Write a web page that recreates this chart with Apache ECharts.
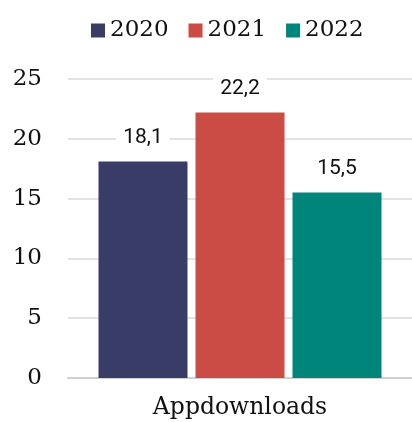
<!DOCTYPE html>
<html>
<head>
<meta charset="utf-8">
<style>
  html, body { margin: 0; padding: 0; background: #ffffff; }
  #chart { width: 412px; height: 422px; }
</style>
<script src="https://cdn.jsdelivr.net/npm/echarts@6/dist/echarts.min.js"></script>
</head>
<body>
<div id="chart"></div>
<script>
const categories = ['Appdownloads'];
const seriesNames = ['2020', '2021', '2022'];
const values2020 = [18.1];
const values2021 = [22.2];
const values2022 = [15.5];
const colors = ['#393c67', '#cb4c44', '#00857b'];
const yTicks = { min: 0, max: 25, interval: 5 };

const serif = 'DejaVu Serif';
const allValues = [values2020, values2021, values2022];

const chart = echarts.init(document.getElementById('chart'), null, { renderer: 'canvas' });
chart.setOption({
  backgroundColor: '#ffffff',
  animation: false,
  legend: {
    top: 14,
    left: 86,
    itemWidth: 14,
    itemHeight: 14,
    itemGap: 20,
    icon: 'rect',
    textStyle: { fontFamily: serif, fontSize: 23, color: '#111111' },
    data: seriesNames
  },
  grid: { left: 68, right: 0, top: 79, bottom: 44 },
  xAxis: {
    type: 'category',
    data: categories,
    axisLine: { lineStyle: { color: '#d0d0d0', width: 2 } },
    axisTick: { show: false },
    axisLabel: { fontFamily: serif, fontSize: 23.5, color: '#111111', margin: 18 }
  },
  yAxis: {
    type: 'value',
    min: yTicks.min,
    max: yTicks.max,
    interval: yTicks.interval,
    axisLine: { show: false },
    axisTick: { show: false },
    splitLine: { lineStyle: { color: '#dadada', width: 1.5 } },
    axisLabel: { fontFamily: serif, fontSize: 23, color: '#111111', margin: 26 }
  },
  series: seriesNames.map((name, i) => ({
    name: name,
    type: 'bar',
    data: allValues[i],
    barWidth: 89,
    barGap: '9%',
    itemStyle: { color: colors[i] },
    label: {
      show: true,
      position: 'top',
      distance: 11,
      fontFamily: 'Roboto',
      fontSize: 21,
      color: '#111111',
      backgroundColor: '#ffffff',
      padding: [2, 7],
      formatter: p => String(p.value).replace('.', ',')
    }
  }))
});
</script>
</body>
</html>
